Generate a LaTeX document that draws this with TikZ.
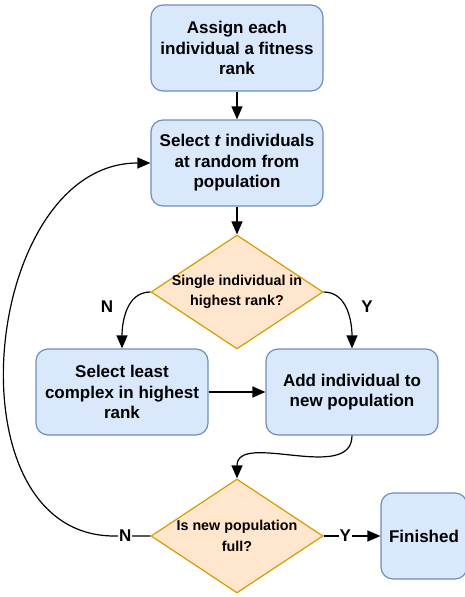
\documentclass[tikz,border=0pt]{standalone}
\usepackage{fontspec}
\setmainfont{Liberation Sans}
\usetikzlibrary{arrows.meta,positioning,shapes.geometric}
\definecolor{fcBlue}{HTML}{DAE8FC}
\definecolor{fcBlueLine}{HTML}{6C8EBF}
\definecolor{fcOrange}{HTML}{FFE6CC}
\definecolor{fcOrangeLine}{HTML}{D79B00}
\tikzset{
  >={Triangle[length=13pt,width=11pt]},
  stepbox/.style={rounded corners=12pt, draw=fcBlueLine, fill=fcBlue, line width=1.2pt,
              minimum width=172pt, minimum height=86pt, align=center, inner sep=0pt,
              font=\fontsize{17}{20.5}\selectfont\bfseries},
  decide/.style={diamond, shape aspect=1.5, draw=fcOrangeLine, fill=fcOrange, line width=1.2pt,
              minimum width=172pt, minimum height=114pt, inner sep=-14pt, align=center,
              font=\fontsize{14.3}{20.5}\selectfont\bfseries},
  lbl/.style={font=\fontsize{17}{18}\selectfont\bfseries, inner sep=1pt},
  flow/.style={->, draw=black, line width=1.2pt},
}

\begin{document}
\begin{tikzpicture}[x=1pt,y=-1pt]
  \useasboundingbox (0,0) rectangle (464,597);
  \node[stepbox] (assign) at (237,48) {Assign each\\individual a fitness\\rank};
  \node[stepbox] (pick) at (237,163) {Select \textit{t} individuals\\at random from\\population};
  \node[decide] (single) at (237,292) {Single individual in\\highest rank?};
  \node[stepbox] (leastcx) at (122,392) {Select least\\complex in highest\\rank};
  \node[stepbox] (addnew) at (352,392) {Add individual to\\new population};
  \node[decide] (full) at (237,536) {Is new population\\full?};
  \node[stepbox,minimum width=86pt] (finished) at (424,536) {Finished};
  \node[lbl] (noA) at (107,307) {N};
  \node[lbl] (yesA) at (367,307) {Y};

  \draw[flow] (assign) -- (pick);
  \draw[flow] (pick) -- (single);
  \draw[flow] (single.west) to[out=180,in=90] (leastcx.north);
  \draw[flow] (single.east) to[out=0,in=90] (addnew.north);
  \draw[flow] (leastcx) -- (addnew);
  \draw[flow] (addnew.south) to[out=-90,in=90] (full.north);
  \draw[flow] (full.west) -- node[lbl,pos=0.7,fill=white]{N} ++(-36,0)
    to[out=180,in=180,looseness=1.15] (pick.west);
  \draw[flow] (full) -- node[lbl,pos=0.38,fill=white]{Y} (finished);
\end{tikzpicture}
\end{document}
